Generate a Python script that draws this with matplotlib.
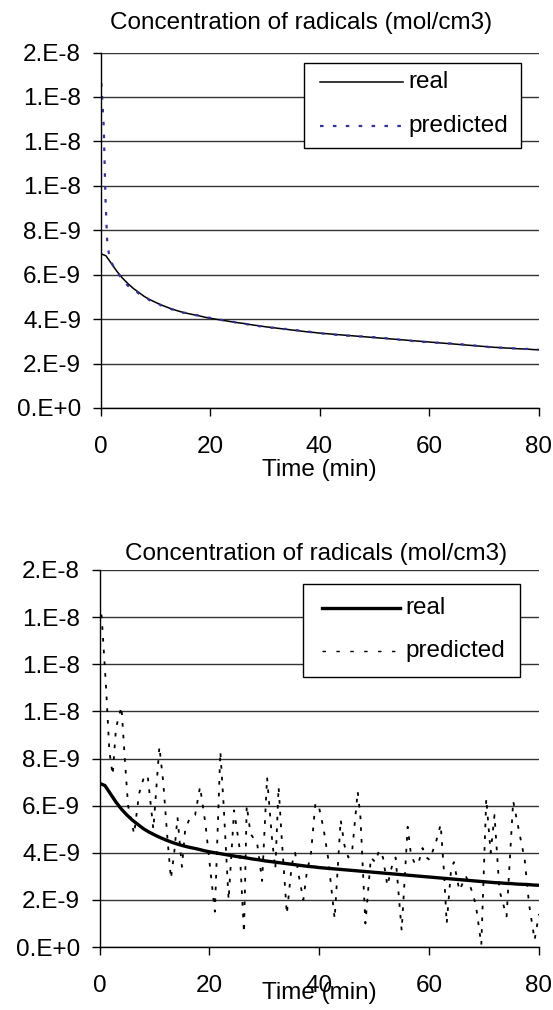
import matplotlib
matplotlib.use("Agg")
import matplotlib.pyplot as plt
from matplotlib.lines import Line2D
from matplotlib.patches import Rectangle

plt.rcParams['font.family'] = ['Liberation Sans', 'DejaVu Sans']

W, H = 553, 1010

# time axis (min) for the real curve
t_real = list(range(0, 81))
# real concentration, in 1e-9 mol/cm3
real = [6.95, 6.85, 6.50, 6.15, 5.85, 5.60, 5.38, 5.20, 5.02, 4.88,
        4.76, 4.65, 4.55, 4.46, 4.38, 4.31, 4.25, 4.20, 4.15, 4.09,
        4.04, 4.00, 3.96, 3.92, 3.88, 3.84, 3.81, 3.77, 3.73, 3.70,
        3.66, 3.63, 3.60, 3.57, 3.54, 3.51, 3.48, 3.45, 3.42, 3.40,
        3.37, 3.35, 3.33, 3.31, 3.29, 3.27, 3.25, 3.23, 3.21, 3.19,
        3.17, 3.15, 3.13, 3.11, 3.09, 3.07, 3.05, 3.03, 3.01, 2.99,
        2.97, 2.95, 2.93, 2.91, 2.89, 2.87, 2.85, 2.83, 2.81, 2.79,
        2.77, 2.75, 2.73, 2.72, 2.70, 2.69, 2.67, 2.66, 2.65, 2.63,
        2.62]

# top chart: good prediction
t_pred1 = [0, 0.3, 0.6, 0.9, 1.2, 1.5, 2, 3, 4, 5, 6, 7, 8, 9,
           10, 11, 12, 13, 14, 15, 16, 17, 18, 19, 20, 21, 22, 23, 24, 25,
           26, 27, 28, 29, 30, 31, 32, 33, 34, 35, 36, 37, 38, 39, 40,
           41, 42, 43, 44, 45, 46, 47, 48, 49, 50, 51, 52, 53, 54, 55,
           56, 57, 58, 59, 60, 61, 62, 63, 64, 65, 66, 67, 68, 69, 70,
           71, 72, 73, 74, 75, 76, 77, 78, 79, 80]
pred1 = [15.2, 14.0, 12.6, 9.5, 7.6, 7.0, 6.55, 6.10, 5.80, 5.50, 5.36, 5.15, 5.05, 4.84,
         4.80, 4.62, 4.57, 4.44, 4.40, 4.29, 4.27, 4.18, 4.17, 4.07, 4.06, 3.98, 3.97, 3.90, 3.90, 3.82,
         3.83, 3.75, 3.75, 3.68, 3.68, 3.61, 3.62, 3.55, 3.56, 3.49, 3.50, 3.43, 3.44, 3.38, 3.39,
         3.33, 3.35, 3.29, 3.31, 3.25, 3.27, 3.21, 3.23, 3.17, 3.19, 3.13, 3.15, 3.09, 3.11, 3.05,
         3.07, 3.01, 3.03, 2.97, 2.99, 2.93, 2.95, 2.90, 2.91, 2.86, 2.87, 2.82, 2.83, 2.78, 2.79,
         2.74, 2.75, 2.71, 2.72, 2.68, 2.69, 2.65, 2.66, 2.62, 2.63]

# bottom chart: noisy prediction
t_pred2 = [0, 0.4, 1.2, 1.8, 2.4, 3.0, 4.0, 4.6, 5.2, 6.3,
           7.2, 8.2, 8.8, 9.8, 10.9, 11.6, 12.4, 13.0, 13.6, 14.2,
           15.0, 15.6, 16.5, 17.4, 18.3, 19.3, 20.3, 21.0, 22.0, 22.6,
           23.5, 24.5, 25.5, 26.3, 26.8, 27.5, 28.7, 29.6, 30.5, 31.4,
           32.0, 32.6, 33.2, 34.1, 35.0, 35.6, 36.3, 37.1, 37.7, 38.5,
           39.3, 39.9, 40.8, 41.6, 42.8, 43.9, 44.6, 45.3, 46.0, 47.0,
           47.5, 48.4, 49.4, 50.2, 50.9, 51.6, 52.4, 53.2, 53.9, 55.0,
           56.1, 56.7, 57.3, 58.0, 58.8, 59.5, 60.1, 61.3, 62.1, 62.7,
           63.2, 64.0, 64.5, 65.5, 66.7, 67.6, 68.5, 69.5, 70.4, 71.2,
           71.9, 72.8, 74.1, 75.3, 76.3, 77.4, 78.2, 79.2, 80.0]
pred2 = [14.6, 14.0, 11.0, 8.3, 7.3, 9.3, 10.2, 8.0, 6.0, 4.8,
         6.5, 7.3, 7.2, 5.0, 8.5, 7.0, 4.5, 2.9, 4.0, 5.5,
         3.4, 5.0, 5.5, 5.6, 6.8, 5.2, 3.0, 1.5, 8.3, 6.0,
         2.0, 5.8, 4.2, 0.6, 6.0, 4.8, 4.4, 2.8, 7.2, 4.6,
         3.3, 6.8, 4.5, 1.4, 3.5, 4.0, 3.0, 2.0, 3.1, 4.0,
         6.1, 6.0, 5.0, 3.8, 1.2, 5.4, 4.3, 3.8, 4.1, 6.6,
         5.5, 1.0, 3.8, 3.6, 4.1, 3.8, 2.6, 3.4, 3.8, 0.7,
         5.1, 3.9, 3.6, 3.5, 4.2, 3.8, 3.7, 4.5, 5.2, 3.2,
         1.0, 3.3, 3.6, 2.4, 3.0, 2.5, 1.8, 0.1, 6.3, 4.0,
         5.6, 2.4, 1.3, 6.2, 5.0, 3.7, 1.8, 0.3, 1.4]

y_ticks = [0, 2e-9, 4e-9, 6e-9, 8e-9, 1e-8, 1.2e-8, 1.4e-8, 1.6e-8]
y_labels = ['0.E+0', '2.E-9', '4.E-9', '6.E-9', '8.E-9', '1.E-8', '1.E-8', '1.E-8', '2.E-8']
x_ticks = [0, 20, 40, 60, 80]
title = 'Concentration of radicals (mol/cm3)'
series_names = ['real', 'predicted']

FS = 17.5
PRED_COLOR = '#333399'


def rect(left, top, right, bottom):
    return [left / W, 1 - bottom / H, (right - left) / W, (bottom - top) / H]


def fx(px):
    return px / W


def fy(py):
    return 1 - py / H


def setup(ax):
    ax.set_xlim(0, 80)
    ax.set_ylim(0, 1.6e-8)
    ax.set_yticks(y_ticks)
    ax.set_yticklabels(y_labels)
    ax.set_xticks(x_ticks)
    for s in ['top', 'right']:
        ax.spines[s].set_visible(False)
    ax.spines['left'].set_linewidth(1.0)
    ax.spines['bottom'].set_linewidth(1.0)
    ax.tick_params(axis='y', length=6, width=1, pad=8, labelsize=FS)
    ax.tick_params(axis='x', length=6, width=1, pad=14, labelsize=FS)
    ax.yaxis.grid(True, color='#333333', linewidth=1.0)
    ax.set_axisbelow(True)


def scale(vals):
    return [v * 1e-9 for v in vals]


def legend_box(box, line_x, rows, styles):
    # box = (left, top, right, bottom) in pixels
    l, t, r, b = box
    fig.add_artist(Rectangle((fx(l), fy(b)), (r - l) / W, (b - t) / H,
                             transform=fig.transFigure, facecolor='white',
                             edgecolor='black', linewidth=1.0, zorder=5))
    for name, y, st in zip(series_names, rows, styles):
        fig.add_artist(Line2D([fx(line_x[0]), fx(line_x[1])], [fy(y), fy(y)],
                              transform=fig.transFigure, zorder=6, **st))
        fig.text(fx(line_x[1] + 5), fy(y), name, ha='left', va='center',
                 fontsize=FS, zorder=6)


fig = plt.figure(figsize=(W / 100, H / 100), dpi=100)

# top chart
style_real1 = dict(color='black', linewidth=1.1)
style_pred1 = dict(color=PRED_COLOR, linewidth=1.6, linestyle=(0, (1.6, 4.2)))
ax1 = fig.add_axes(rect(100.5, 52.5, 538.5, 408))
setup(ax1)
ax1.plot(t_real, scale(real), **style_real1)
ax1.plot(t_pred1, scale(pred1), **style_pred1)
fig.text(fx(301), fy(23), title, ha='center', va='center', fontsize=FS)
fig.text(fx(319.5), fy(470), 'Time (min)', ha='center', va='center', fontsize=FS)
legend_box((304, 63, 521, 148), (320, 403), (82, 126), (style_real1, style_pred1))

# bottom chart
style_real2 = dict(color='black', linewidth=2.4)
style_pred2 = dict(color='black', linewidth=1.3, linestyle=(0, (2.0, 4.5)))
ax2 = fig.add_axes(rect(99.5, 570, 539, 947))
setup(ax2)
ax2.plot(t_real, scale(real), **style_real2)
ax2.plot(t_pred2, scale(pred2), **style_pred2)
fig.text(fx(316), fy(554), title, ha='center', va='center', fontsize=FS)
fig.text(fx(319.5), fy(993), 'Time (min)', ha='center', va='center', fontsize=FS)
legend_box((303, 584, 520, 677), (322, 400), (608, 651),
           (style_real2, dict(color='black', linewidth=1.0, linestyle=(0, (2.5, 7.5)))))

fig.savefig('out.png', dpi=100)
